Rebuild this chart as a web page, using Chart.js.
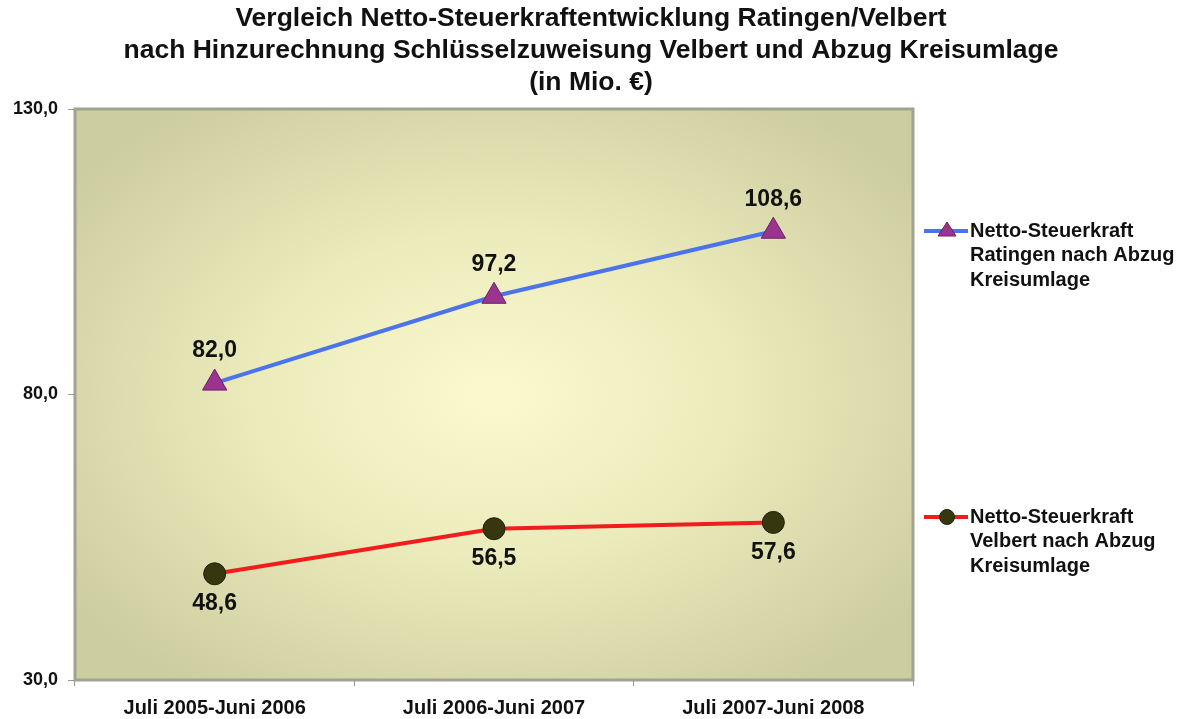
<!DOCTYPE html>
<html>
<head>
<meta charset="utf-8">
<script src="https://cdn.jsdelivr.net/npm/chart.js@4.4.1/dist/chart.umd.min.js"></script>
<style>
    body { margin: 0; background: #fff; }
    #wrap { width: 1184px; height: 719px; }
</style>
</head>
<body>
<div id="wrap"><canvas id="chart" width="1184" height="719"></canvas></div>
<script>
const categories = ["Juli 2005-Juni 2006", "Juli 2006-Juni 2007", "Juli 2007-Juni 2008"];
const ratingenValues = [82.0, 97.2, 108.6];
const velbertValues = [48.6, 56.5, 57.6];
const ratingenLabel = ["Netto-Steuerkraft", "Ratingen nach Abzug", "Kreisumlage"];
const velbertLabel = ["Netto-Steuerkraft", "Velbert nach Abzug", "Kreisumlage"];
const titleLines = [
    "Vergleich Netto-Steuerkraftentwicklung Ratingen/Velbert",
    "nach Hinzurechnung Schlüsselzuweisung Velbert und Abzug Kreisumlage",
    "(in Mio. €)"
];
const yTicks = [30, 80, 130];

const fontFamily = "'Liberation Sans', Arial, sans-serif";
const fmt = v => v.toFixed(1).replace('.', ',');

// title centred on the whole picture
const pageTitle = {
    id: 'pageTitle',
    afterDraw(chart) {
        const { ctx } = chart;
        ctx.save();
        ctx.font = "bold 26.5px " + fontFamily;
        ctx.fillStyle = '#111';
        ctx.textAlign = 'center';
        ctx.textBaseline = 'middle';
        titleLines.forEach((t, i) => ctx.fillText(t, 591, 19 + i * 32));
        ctx.restore();
    }
};

// plot area background with gradient and grey frame
const plotBackground = {
    id: 'plotBackground',
    beforeDraw(chart) {
        const { ctx, chartArea: a } = chart;
        const cx = (a.left + a.right) / 2;
        const cy = (a.top + a.bottom) / 2;
        const w = a.right - a.left;
        const h = a.bottom - a.top;
        ctx.save();
        ctx.translate(cx, cy);
        ctx.scale(w / h, 1);
        const g = ctx.createRadialGradient(0, 0, 0, 0, 0, h * 0.62);
        g.addColorStop(0, '#fafacf');
        g.addColorStop(0.45, '#ebebbc');
        g.addColorStop(1, '#cdcea0');
        ctx.fillStyle = g;
        ctx.fillRect(-h / 2, -h / 2, h, h);
        ctx.restore();
        ctx.save();
        ctx.strokeStyle = '#a2a290';
        ctx.lineWidth = 3;
        ctx.strokeRect(a.left, a.top, w, h);
        ctx.restore();
    }
};

// value labels: above for Ratingen, below for Velbert
const valueLabels = {
    id: 'valueLabels',
    afterDatasetsDraw(chart) {
        const { ctx } = chart;
        ctx.save();
        ctx.font = "bold 23px " + fontFamily;
        ctx.fillStyle = '#111';
        ctx.textAlign = 'center';
        ctx.textBaseline = 'middle';
        chart.data.datasets.forEach((ds, i) => {
            const meta = chart.getDatasetMeta(i);
            meta.data.forEach((pt, j) => {
                const off = ds.labelAbove ? -32 : 30;
                ctx.fillText(fmt(ds.data[j]), pt.x, pt.y + off);
            });
        });
        ctx.restore();
    }
};

// legend on the right with multi-line labels
const sideLegend = {
    id: 'sideLegend',
    afterDraw(chart) {
        const { ctx } = chart;
        const rows = [231, 517];
        ctx.save();
        chart.data.datasets.forEach((ds, i) => {
            const y = rows[i];
            ctx.strokeStyle = ds.borderColor;
            ctx.lineWidth = 4;
            ctx.beginPath();
            ctx.moveTo(924, y);
            ctx.lineTo(968, y);
            ctx.stroke();
            ctx.fillStyle = ds.pointBackgroundColor;
            ctx.strokeStyle = ds.pointBorderColor;
            ctx.lineWidth = 1;
            ctx.beginPath();
            if (ds.pointStyle === 'triangle') {
                ctx.moveTo(947, y - 9);
                ctx.lineTo(956, y + 5);
                ctx.lineTo(938, y + 5);
                ctx.closePath();
            } else {
                ctx.arc(947, y, 7.5, 0, Math.PI * 2);
            }
            ctx.fill();
            ctx.stroke();
            ctx.font = "bold 20px " + fontFamily;
            ctx.fillStyle = '#111';
            ctx.textAlign = 'left';
            ctx.textBaseline = 'middle';
            ds.legendLines.forEach((t, k) => ctx.fillText(t, 970, y + k * 24.5));
        });
        ctx.restore();
    }
};

new Chart(document.getElementById('chart'), {
    type: 'line',
    data: {
        labels: categories,
        datasets: [
            {
                label: ratingenLabel.join(' '),
                legendLines: ratingenLabel,
                data: ratingenValues,
                labelAbove: true,
                borderColor: '#4a73ec',
                borderWidth: 4,
                pointStyle: 'triangle',
                pointRadius: 14,
                pointBackgroundColor: '#9b348e',
                pointBorderColor: '#6e1f66',
                pointBorderWidth: 1,
                tension: 0
            },
            {
                label: velbertLabel.join(' '),
                legendLines: velbertLabel,
                data: velbertValues,
                labelAbove: false,
                borderColor: '#f21c1c',
                borderWidth: 4,
                pointStyle: 'circle',
                pointRadius: 11,
                pointBackgroundColor: '#36360f',
                pointBorderColor: '#222208',
                pointBorderWidth: 1,
                tension: 0
            }
        ]
    },
    options: {
        responsive: false,
        animation: false,
        layout: { padding: { left: 0, right: 271, top: 109, bottom: 0 } },
        plugins: {
            legend: { display: false },
            tooltip: { enabled: false },
            title: { display: false }
        },
        scales: {
            x: {
                offset: true,
                grid: { display: true, offset: true, drawOnChartArea: false, tickLength: 6, color: '#999' },
                border: { display: false },
                ticks: {
                    color: '#111',
                    padding: 10,
                    maxRotation: 0,
                    font: { family: fontFamily, size: 20, weight: 'bold' }
                },
                afterFit: scale => { scale.height = 39; }
            },
            y: {
                min: 30,
                max: 130,
                afterBuildTicks: scale => { scale.ticks = yTicks.map(v => ({ value: v })); },
                grid: { display: true, drawOnChartArea: false, tickLength: 7, color: '#999' },
                border: { display: false },
                ticks: {
                    color: '#111',
                    padding: 10,
                    font: { family: fontFamily, size: 18, weight: 'bold' },
                    callback: v => fmt(v)
                },
                afterFit: scale => { scale.width = 75; }
            }
        }
    },
    plugins: [plotBackground, valueLabels, sideLegend, pageTitle]
});
</script>
</body>
</html>
